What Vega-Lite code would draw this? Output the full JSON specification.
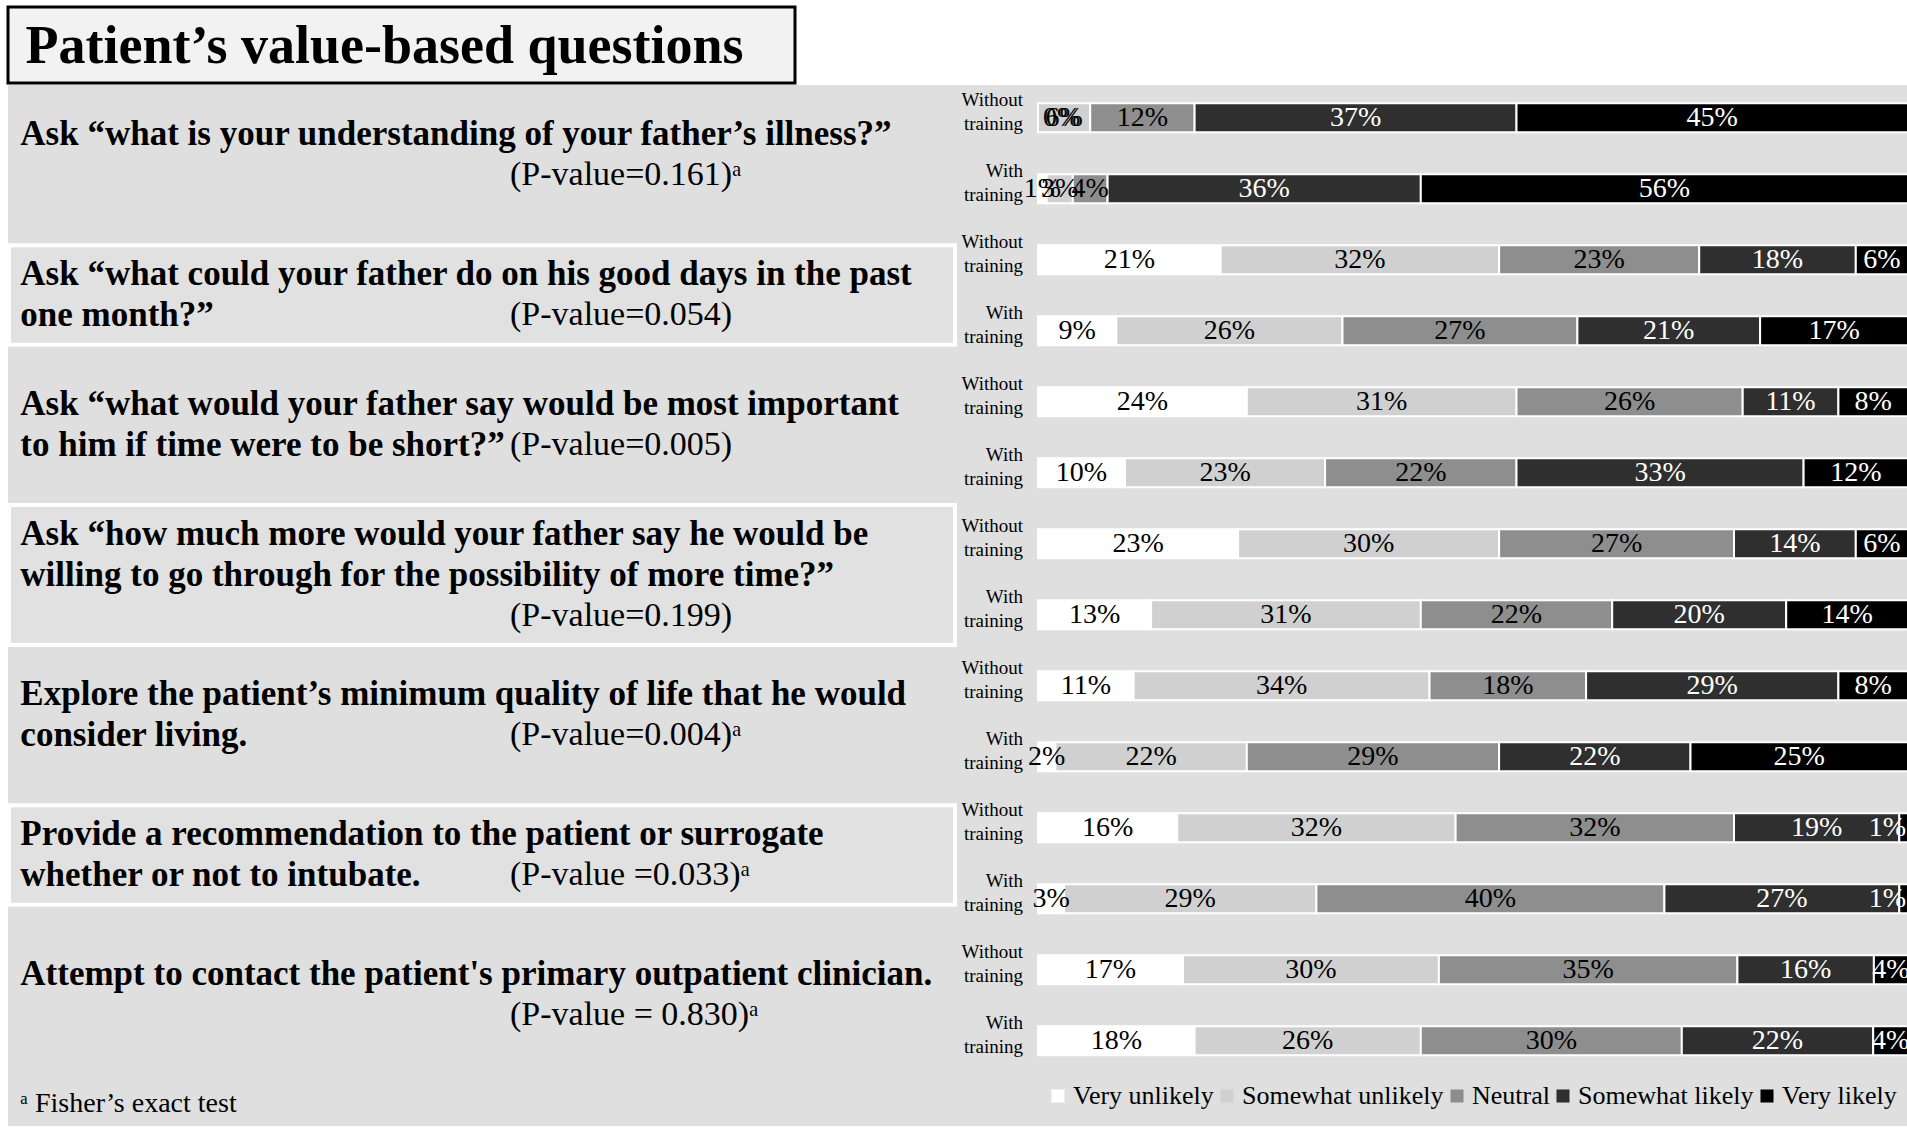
{
  "$schema": "https://vega.github.io/schema/vega-lite/v6.json",
  "padding": {"left": 6, "top": 5, "right": 0, "bottom": 0},
  "autosize": {"type": "pad"},
  "background": "white",
  "spacing": 0,
  "config": {
    "font": "Liberation Serif",
    "view": {"stroke": null}
  },
  "datasets": {
    "rows": [
      {"row":"Q1 Without training","t":"Without training","c":"Very unlikely","k":1,"p":0},
      {"row":"Q1 Without training","t":"Without training","c":"Somewhat unlikely","k":2,"p":0.06},
      {"row":"Q1 Without training","t":"Without training","c":"Neutral","k":3,"p":0.12},
      {"row":"Q1 Without training","t":"Without training","c":"Somewhat likely","k":4,"p":0.37},
      {"row":"Q1 Without training","t":"Without training","c":"Very likely","k":5,"p":0.45},
      {"row":"Q1 With training","t":"With training","c":"Very unlikely","k":1,"p":0.01},
      {"row":"Q1 With training","t":"With training","c":"Somewhat unlikely","k":2,"p":0.03},
      {"row":"Q1 With training","t":"With training","c":"Neutral","k":3,"p":0.04},
      {"row":"Q1 With training","t":"With training","c":"Somewhat likely","k":4,"p":0.36},
      {"row":"Q1 With training","t":"With training","c":"Very likely","k":5,"p":0.56},
      {"row":"Q2 Without training","t":"Without training","c":"Very unlikely","k":1,"p":0.21},
      {"row":"Q2 Without training","t":"Without training","c":"Somewhat unlikely","k":2,"p":0.32},
      {"row":"Q2 Without training","t":"Without training","c":"Neutral","k":3,"p":0.23},
      {"row":"Q2 Without training","t":"Without training","c":"Somewhat likely","k":4,"p":0.18},
      {"row":"Q2 Without training","t":"Without training","c":"Very likely","k":5,"p":0.06},
      {"row":"Q2 With training","t":"With training","c":"Very unlikely","k":1,"p":0.09},
      {"row":"Q2 With training","t":"With training","c":"Somewhat unlikely","k":2,"p":0.26},
      {"row":"Q2 With training","t":"With training","c":"Neutral","k":3,"p":0.27},
      {"row":"Q2 With training","t":"With training","c":"Somewhat likely","k":4,"p":0.21},
      {"row":"Q2 With training","t":"With training","c":"Very likely","k":5,"p":0.17},
      {"row":"Q3 Without training","t":"Without training","c":"Very unlikely","k":1,"p":0.24},
      {"row":"Q3 Without training","t":"Without training","c":"Somewhat unlikely","k":2,"p":0.31},
      {"row":"Q3 Without training","t":"Without training","c":"Neutral","k":3,"p":0.26},
      {"row":"Q3 Without training","t":"Without training","c":"Somewhat likely","k":4,"p":0.11},
      {"row":"Q3 Without training","t":"Without training","c":"Very likely","k":5,"p":0.08},
      {"row":"Q3 With training","t":"With training","c":"Very unlikely","k":1,"p":0.10},
      {"row":"Q3 With training","t":"With training","c":"Somewhat unlikely","k":2,"p":0.23},
      {"row":"Q3 With training","t":"With training","c":"Neutral","k":3,"p":0.22},
      {"row":"Q3 With training","t":"With training","c":"Somewhat likely","k":4,"p":0.33},
      {"row":"Q3 With training","t":"With training","c":"Very likely","k":5,"p":0.12},
      {"row":"Q4 Without training","t":"Without training","c":"Very unlikely","k":1,"p":0.23},
      {"row":"Q4 Without training","t":"Without training","c":"Somewhat unlikely","k":2,"p":0.30},
      {"row":"Q4 Without training","t":"Without training","c":"Neutral","k":3,"p":0.27},
      {"row":"Q4 Without training","t":"Without training","c":"Somewhat likely","k":4,"p":0.14},
      {"row":"Q4 Without training","t":"Without training","c":"Very likely","k":5,"p":0.06},
      {"row":"Q4 With training","t":"With training","c":"Very unlikely","k":1,"p":0.13},
      {"row":"Q4 With training","t":"With training","c":"Somewhat unlikely","k":2,"p":0.31},
      {"row":"Q4 With training","t":"With training","c":"Neutral","k":3,"p":0.22},
      {"row":"Q4 With training","t":"With training","c":"Somewhat likely","k":4,"p":0.20},
      {"row":"Q4 With training","t":"With training","c":"Very likely","k":5,"p":0.14},
      {"row":"Q5 Without training","t":"Without training","c":"Very unlikely","k":1,"p":0.11},
      {"row":"Q5 Without training","t":"Without training","c":"Somewhat unlikely","k":2,"p":0.34},
      {"row":"Q5 Without training","t":"Without training","c":"Neutral","k":3,"p":0.18},
      {"row":"Q5 Without training","t":"Without training","c":"Somewhat likely","k":4,"p":0.29},
      {"row":"Q5 Without training","t":"Without training","c":"Very likely","k":5,"p":0.08},
      {"row":"Q5 With training","t":"With training","c":"Very unlikely","k":1,"p":0.02},
      {"row":"Q5 With training","t":"With training","c":"Somewhat unlikely","k":2,"p":0.22},
      {"row":"Q5 With training","t":"With training","c":"Neutral","k":3,"p":0.29},
      {"row":"Q5 With training","t":"With training","c":"Somewhat likely","k":4,"p":0.22},
      {"row":"Q5 With training","t":"With training","c":"Very likely","k":5,"p":0.25},
      {"row":"Q6 Without training","t":"Without training","c":"Very unlikely","k":1,"p":0.16},
      {"row":"Q6 Without training","t":"Without training","c":"Somewhat unlikely","k":2,"p":0.32},
      {"row":"Q6 Without training","t":"Without training","c":"Neutral","k":3,"p":0.32},
      {"row":"Q6 Without training","t":"Without training","c":"Somewhat likely","k":4,"p":0.19},
      {"row":"Q6 Without training","t":"Without training","c":"Very likely","k":5,"p":0.01},
      {"row":"Q6 With training","t":"With training","c":"Very unlikely","k":1,"p":0.03},
      {"row":"Q6 With training","t":"With training","c":"Somewhat unlikely","k":2,"p":0.29},
      {"row":"Q6 With training","t":"With training","c":"Neutral","k":3,"p":0.40},
      {"row":"Q6 With training","t":"With training","c":"Somewhat likely","k":4,"p":0.27},
      {"row":"Q6 With training","t":"With training","c":"Very likely","k":5,"p":0.01},
      {"row":"Q7 Without training","t":"Without training","c":"Very unlikely","k":1,"p":0.17},
      {"row":"Q7 Without training","t":"Without training","c":"Somewhat unlikely","k":2,"p":0.30},
      {"row":"Q7 Without training","t":"Without training","c":"Neutral","k":3,"p":0.35},
      {"row":"Q7 Without training","t":"Without training","c":"Somewhat likely","k":4,"p":0.16},
      {"row":"Q7 Without training","t":"Without training","c":"Very likely","k":5,"p":0.04},
      {"row":"Q7 With training","t":"With training","c":"Very unlikely","k":1,"p":0.18},
      {"row":"Q7 With training","t":"With training","c":"Somewhat unlikely","k":2,"p":0.26},
      {"row":"Q7 With training","t":"With training","c":"Neutral","k":3,"p":0.30},
      {"row":"Q7 With training","t":"With training","c":"Somewhat likely","k":4,"p":0.22},
      {"row":"Q7 With training","t":"With training","c":"Very likely","k":5,"p":0.04}
    ],
    "qs": [
      {"q":"Q1","text":"Ask “what is your understanding of your father’s illness?”","pv":"(P-value=0.161)ᵃ"},
      {"q":"Q2","text":"Ask “what could your father do on his good days in the past\none month?”","pv":"(P-value=0.054)"},
      {"q":"Q3","text":"Ask “what would your father say would be most important\nto him if time were to be short?”","pv":"(P-value=0.005)"},
      {"q":"Q4","text":"Ask “how much more would your father say he would be\nwilling to go through for the possibility of more time?”","pv":"(P-value=0.199)"},
      {"q":"Q5","text":"Explore the patient’s minimum quality of life that he would\nconsider living.","pv":"(P-value=0.004)ᵃ"},
      {"q":"Q6","text":"Provide a recommendation to the patient or surrogate\nwhether or not to intubate.","pv":"(P-value =0.033)ᵃ"},
      {"q":"Q7","text":"Attempt to contact the patient's primary outpatient clinician.","pv":"(P-value = 0.830)ᵃ"}
    ],
    "note": [
      {"id":"note","txt":"ᵃ Fisher’s exact test"}
    ]
  },
  "vconcat": [
    {
      "width": 787,
      "height": 76,
      "view": {"fill": "#f2f2f2", "stroke": "black", "strokeWidth": 3},
      "data": {"values": [{"t": "Patient’s value-based questions"}]},
      "mark": {"type": "text", "fontSize": 54, "fontWeight": "bold", "font": "Liberation Serif", "baseline": "middle", "align": "center", "dy": 2, "dx": -17},
      "encoding": {"text": {"field": "t", "type": "nominal"}}
    },
    {
      "width": 1901,
      "height": 1041,
      "view": {"fill": "#dfdfdf", "stroke": null},
      "resolve": {"scale": {"y": "independent"}},
      "layer": [
        {
          "data": {"name": "rows"},
          "encoding": {
            "y": {"field": "row", "type": "nominal", "axis": null,
                  "scale": {"domain": ["Q1 Without training","Q1 With training","Q2 Without training","Q2 With training","Q3 Without training","Q3 With training","Q4 Without training","Q4 With training","Q5 Without training","Q5 With training","Q6 Without training","Q6 With training","Q7 Without training","Q7 With training"],
                            "paddingInner": 0.59, "paddingOuter": 0.626, "align": 0.205}}
          },
          "layer": [
            {
              "mark": {"type": "bar", "stroke": "white", "strokeWidth": 2},
              "encoding": {
                "x": {"field": "p", "type": "quantitative", "stack": "normalize",
                      "scale": {"domain": [-1.18391, 1.00115], "nice": false, "zero": false},
                      "axis": {"values": [0, 0.2, 0.4, 0.6, 0.8, 1], "grid": true, "labels": false, "ticks": false, "domain": false, "title": null, "gridColor": "white", "gridWidth": 2, "gridOpacity": 1}},
                "color": {"field": "c", "type": "nominal",
                          "scale": {"domain": ["Very unlikely", "Somewhat unlikely", "Neutral", "Somewhat likely", "Very likely"],
                                    "range": ["#ffffff", "#d0d0d0", "#8e8e8e", "#2f2f2f", "#000000"]},
                          "legend": {"orient": "none", "legendX": 1025, "legendY": 1064, "direction": "horizontal", "title": null,
                                     "labelFont": "Liberation Serif", "labelFontSize": 26, "labelColor": "black", "labelLimit": 400,
                                     "symbolType": "square", "symbolSize": 170, "symbolStrokeWidth": 0,
                                     "columnPadding": 0, "labelOffset": 2, "padding": 12,
                                     "fillColor": "#dfdfdf"}},
                "order": {"field": "k", "type": "quantitative"}
              }
            },
            {
              "mark": {"type": "text", "fontSize": 28, "baseline": "middle", "align": "center"},
              "encoding": {
                "x": {"field": "p", "type": "quantitative", "stack": "normalize", "bandPosition": 0.5, "axis": null},
                "detail": {"field": "c", "type": "nominal"},
                "order": {"field": "k", "type": "quantitative"},
                "text": {"field": "p", "type": "quantitative", "format": ".0%"},
                "color": {"condition": {"test": "datum.k >= 4", "value": "white"}, "value": "black"},
                "opacity": {"condition": {"test": "datum.p == 0 || (datum.p < 0.02 && datum.k == 5)", "value": 0}, "value": 1}
              }
            },
            {
              "transform": [
                {"stack": "p", "groupby": ["row"], "sort": [{"field": "k", "order": "ascending"}], "offset": "normalize", "as": ["s0", "s1"]},
                {"filter": "datum.p == 0"}
              ],
              "mark": {"type": "text", "fontSize": 28, "baseline": "middle", "align": "left", "dx": 5, "color": "black"},
              "encoding": {
                "x": {"field": "s0", "type": "quantitative", "axis": null},
                "text": {"field": "p", "type": "quantitative", "format": ".0%"}
              }
            },
            {
              "transform": [
                {"stack": "p", "groupby": ["row"], "sort": [{"field": "k", "order": "ascending"}], "offset": "normalize", "as": ["s0", "s1"]},
                {"filter": "datum.p > 0 && datum.p < 0.02 && datum.k == 5"}
              ],
              "mark": {"type": "text", "fontSize": 28, "baseline": "middle", "align": "right", "dx": -2, "color": "white"},
              "encoding": {
                "x": {"field": "s1", "type": "quantitative", "axis": null},
                "text": {"field": "p", "type": "quantitative", "format": ".0%"}
              }
            },
            {
              "transform": [{"filter": "datum.k == 1"}],
              "mark": {"type": "text", "align": "right", "baseline": "middle", "fontSize": 19, "lineBreak": " ", "lineHeight": 24, "dx": -15, "dy": -18, "color": "black"},
              "encoding": {
                "x": {"datum": 0, "type": "quantitative", "axis": null},
                "text": {"field": "t", "type": "nominal"}
              }
            }
          ]
        },
        {
          "data": {"name": "qs"},
          "encoding": {
            "y": {"field": "q", "type": "nominal", "axis": null,
                  "scale": {"domain": ["Q1","Q2","Q3","Q4","Q5","Q6","Q7"], "paddingInner": 0, "paddingOuter": 0.218, "align": 0}}
          },
          "layer": [
            {
              "transform": [{"filter": "datum.q == 'Q2' || datum.q == 'Q6'"}],
              "mark": {"type": "bar", "fill": "#e1e1e1", "stroke": "white", "strokeWidth": 4, "height": {"band": 0.71}},
              "encoding": {
                "x": {"datum": -1.1828, "type": "quantitative", "axis": null},
                "x2": {"datum": -0.0954}
              }
            },
            {
              "transform": [{"filter": "datum.q == 'Q4'"}],
              "mark": {"type": "bar", "fill": "#e1e1e1", "stroke": "white", "strokeWidth": 4, "height": {"band": 1}},
              "encoding": {
                "x": {"datum": -1.1828, "type": "quantitative", "axis": null},
                "x2": {"datum": -0.0954}
              }
            },
            {
              "transform": [{"filter": "datum.q != 'Q4' && datum.q != 'Q3'"}],
              "mark": {"type": "text", "align": "left", "baseline": "middle", "fontSize": 35, "fontWeight": "bold", "lineBreak": "\n", "lineHeight": 41, "dy": -20.5, "color": "black"},
              "encoding": {
                "x": {"datum": -1.16972, "type": "quantitative", "axis": null},
                "text": {"field": "text", "type": "nominal"}
              }
            },
            {
              "transform": [{"filter": "datum.q == 'Q3'"}],
              "mark": {"type": "text", "align": "left", "baseline": "middle", "fontSize": 35, "fontWeight": "bold", "lineBreak": "\n", "lineHeight": 41, "dy": -30.5, "color": "black"},
              "encoding": {
                "x": {"datum": -1.16972, "type": "quantitative", "axis": null},
                "text": {"field": "text", "type": "nominal"}
              }
            },
            {
              "transform": [{"filter": "datum.q == 'Q4'"}],
              "mark": {"type": "text", "align": "left", "baseline": "middle", "fontSize": 35, "fontWeight": "bold", "lineBreak": "\n", "lineHeight": 41, "dy": -41, "color": "black"},
              "encoding": {
                "x": {"datum": -1.16972, "type": "quantitative", "axis": null},
                "text": {"field": "text", "type": "nominal"}
              }
            },
            {
              "transform": [{"filter": "datum.q != 'Q4' && datum.q != 'Q3'"}],
              "mark": {"type": "text", "align": "left", "baseline": "middle", "fontSize": 34, "dy": 20.5, "color": "black"},
              "encoding": {
                "x": {"datum": -0.6069, "type": "quantitative", "axis": null},
                "text": {"field": "pv", "type": "nominal"}
              }
            },
            {
              "transform": [{"filter": "datum.q == 'Q3'"}],
              "mark": {"type": "text", "align": "left", "baseline": "middle", "fontSize": 34, "dy": 10.5, "color": "black"},
              "encoding": {
                "x": {"datum": -0.6069, "type": "quantitative", "axis": null},
                "text": {"field": "pv", "type": "nominal"}
              }
            },
            {
              "transform": [{"filter": "datum.q == 'Q4'"}],
              "mark": {"type": "text", "align": "left", "baseline": "middle", "fontSize": 34, "dy": 41, "color": "black"},
              "encoding": {
                "x": {"datum": -0.6069, "type": "quantitative", "axis": null},
                "text": {"field": "pv", "type": "nominal"}
              }
            }
          ]
        },
        {
          "data": {"name": "note"},
          "mark": {"type": "text", "align": "left", "baseline": "middle", "fontSize": 28, "color": "black"},
          "encoding": {
            "y": {"field": "id", "type": "nominal", "axis": null, "scale": {"type": "point", "align": 0.979}},
            "x": {"datum": -1.16972, "type": "quantitative", "axis": null},
            "text": {"field": "txt", "type": "nominal"}
          }
        }
      ]
    }
  ]
}
